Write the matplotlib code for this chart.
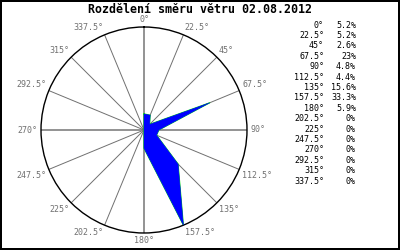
import numpy as np
import matplotlib
matplotlib.use("Agg")
import matplotlib.pyplot as plt

# Směry (stupně) a četnosti (%)
smery = [0, 22.5, 45, 67.5, 90, 112.5, 135, 157.5, 180, 202.5, 225, 247.5, 270, 292.5, 315, 337.5]
cetnosti = [5.2, 5.2, 2.6, 23, 4.8, 4.4, 15.6, 33.3, 5.9, 0, 0, 0, 0, 0, 0, 0]
popisky = ["0°", "22.5°", "45°", "67.5°", "90°", "112.5°", "135°", "157.5°", "180°",
           "202.5°", "225°", "247.5°", "270°", "292.5°", "315°", "337.5°"]
procenta = ["5.2%", "5.2%", "2.6%", "23%", "4.8%", "4.4%", "15.6%", "33.3%", "5.9%",
            "0%", "0%", "0%", "0%", "0%", "0%", "0%"]

mono = "DejaVu Sans Mono"

fig = plt.figure(figsize=(4, 2.5), dpi=100, linewidth=1.5, edgecolor="black")
ax = fig.add_axes([0.1025, 0.068, 0.515, 0.824], projection="polar")
ax.set_theta_zero_location("N")
ax.set_theta_direction(-1)
rmax = max(cetnosti)
ax.set_ylim(0, rmax)

theta = np.deg2rad(smery)
tt = np.append(theta, theta[0])
rr = np.append(cetnosti, cetnosti[0])
# zelený obrys pod modrou výplní
ax.plot(tt, rr, color="#00ee00", linewidth=0.8, zorder=2)
ax.fill(tt, rr, facecolor="blue", edgecolor="blue", linewidth=0.3, zorder=3)

# paprsky
for i, t in enumerate(theta):
    hlavni = smery[i] % 90 == 0
    ax.plot([t, t], [0, rmax], color="#808080" if hlavni else "#707070",
            linewidth=1.2 if hlavni else 0.7, zorder=1)

ax.grid(False)
ax.set_xticks([])
ax.set_yticks([])
ax.spines["polar"].set_color("black")
ax.spines["polar"].set_linewidth(1.0)

# popisky směrů
for i, t in enumerate(theta):
    s, c = np.sin(t), np.cos(t)
    ha = "center" if abs(s) < 0.1 else ("left" if s > 0 else "right")
    va = "center" if abs(c) < 0.1 else ("bottom" if c > 0 else "top")
    ax.text(t, rmax * 1.03, popisky[i], ha=ha, va=va, fontsize=6,
            family=mono, color="#707070", clip_on=False)

fig.text(0.5, 0.962, "Rozdělení směru větru 02.08.2012", ha="center", va="center",
         fontsize=8.4, family=mono, fontweight="bold")

# tabulka vpravo
for i in range(len(smery)):
    y = 1 - (25 + i * 10.4) / 250
    fig.text(324 / 400, y, popisky[i], ha="right", va="center", fontsize=6, family=mono)
    fig.text(356 / 400, y, procenta[i], ha="right", va="center", fontsize=6, family=mono)

fig.savefig("out.png", dpi=100)
